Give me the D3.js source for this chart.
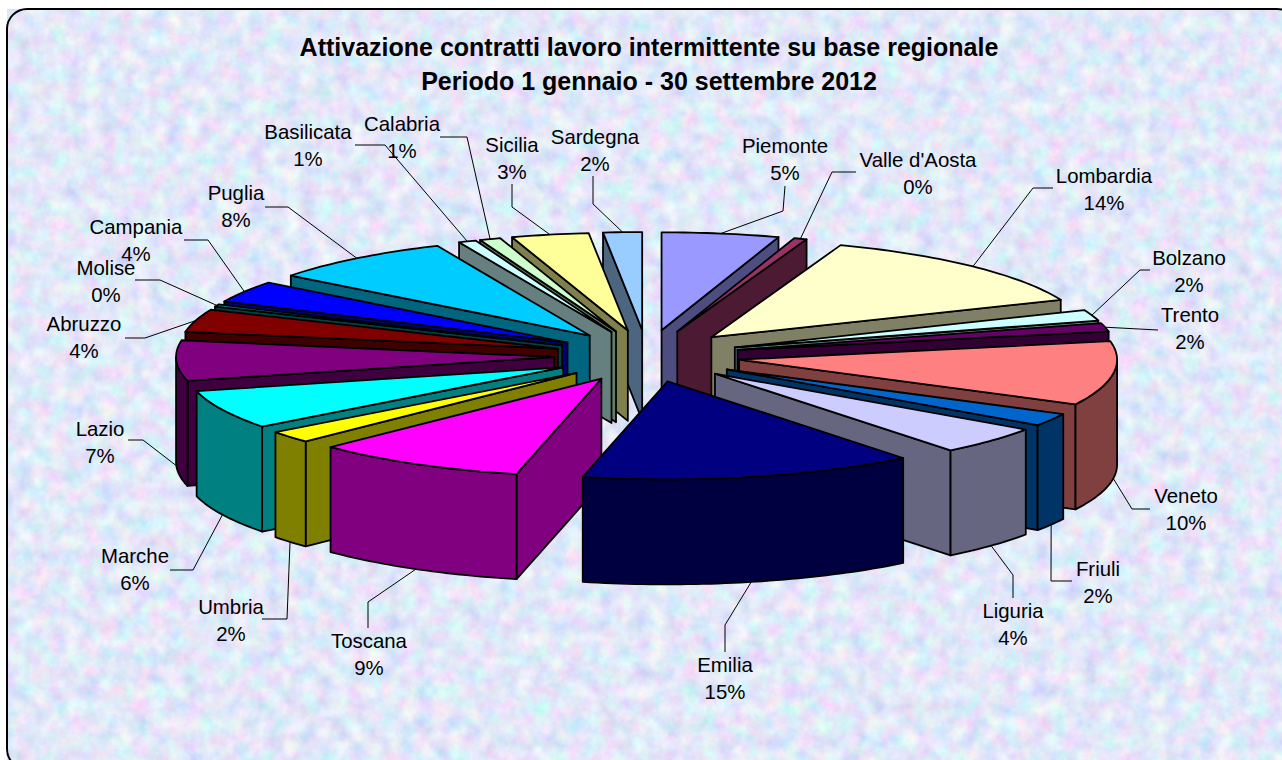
<!DOCTYPE html>
<html><head><meta charset="utf-8">
<script src="https://cdn.jsdelivr.net/npm/d3@7"></script>
<style>html,body{margin:0;padding:0;background:#fff;overflow:hidden}svg{display:block}text{font-family:"Liberation Sans",Arial,sans-serif;fill:#000}</style>
</head><body><svg id="c" width="1282" height="760"></svg>
<script>
const regions = ["Piemonte","Valle d'Aosta","Lombardia","Bolzano","Trento","Veneto","Friuli","Liguria","Emilia","Toscana","Umbria","Marche","Lazio","Abruzzo","Molise","Campania","Puglia","Basilicata","Calabria","Sicilia","Sardegna"];
const shares = [5.0,0.55,13.2,1.8,1.4,10.55,2.1,4.65,14.3,9.1,1.95,6.4,6.65,3.75,0.4,3.6,7.9,0.75,0.9,3.3,1.65];
const percentLabels = ["5%","0%","14%","2%","2%","10%","2%","4%","15%","9%","2%","6%","7%","4%","0%","4%","8%","1%","1%","3%","2%"];
const colors = ["#9999FF","#993366","#FFFFCC","#CCFFFF","#660066","#FF8080","#0066CC","#CCCCFF","#000080","#FF00FF","#FFFF00","#00FFFF","#800080","#800000","#008080","#0000FF","#00CCFF","#CCFFFF","#CCFFCC","#FFFF99","#99CCFF"];
const titleLines = ["Attivazione contratti lavoro intermittente su base regionale","Periodo 1 gennaio - 30 settembre 2012"];
// label placement: label centre x, first-line centre y, leader elbow and leader end
const labelLayout = [
 [785,146,[783,211],[785,186]],[918,160,[832,172],[856,172]],[1104,176,[1033,188],[1053,188]],
 [1189,258,[1140,270],[1150,270]],[1190,315,null,[1158,330]],[1186,496,[1132,509],[1150,509]],
 [1098,569,[1051,581],[1072,581]],[1013,611,[1013,575],[1013,598]],[725,665,[725,625],[725,652]],
 [369,641,[368,602],[368,628]],[231,607,[287,619],[262,619]],[135,556,[193,570],[170,570]],
 [100,429,[143,440],[128,440]],[84,324,[145,338],[125,338]],[106,268,[160,280],[135,280]],
 [136,227,[208,240],[184,240]],[236,193,[288,207],[265,207]],[308,132,[385,145],[355,145]],
 [402,124,[467,137],[440,137]],[512,145,[512,207],[512,184]],[595,137,[593,204],[593,176]]];

const W=1282,H=760, cx=647, cy=356, rx=378, ry=98, ex=93, ey=26;
const svg=d3.select("#c");
const defs=svg.append("defs");
const f=defs.append("filter").attr("id","tex").attr("x",0).attr("y",0).attr("width","100%").attr("height","100%");
f.append("feTurbulence").attr("type","fractalNoise").attr("baseFrequency",0.06).attr("numOctaves",4).attr("seed",7);
f.append("feColorMatrix").attr("type","matrix").attr("values",
 "0.6 0 0 0 0.46  0 0.48 0 0 0.57  0 0 0.2 0 0.84  0 0 0 0 1");
const frame={x:7,y:9,w:1290,h:760,r:20};
svg.append("rect").attr("x",frame.x).attr("y",frame.y).attr("width",frame.w).attr("height",frame.h).attr("rx",frame.r).attr("filter","url(#tex)");
svg.append("rect").attr("x",frame.x).attr("y",frame.y).attr("width",frame.w).attr("height",frame.h).attr("rx",frame.r).attr("fill","none").attr("stroke","#000").attr("stroke-width",2);

const pie=d3.pie().sort(null).startAngle(0).endAngle(2*Math.PI);
const arcs=pie(shares);
const depth=d3.scaleLinear().domain([330,358]).range([90,105]).clamp(true);
const line=d3.line();
const down=p=>[p[0],p[1]+depth(p[1])];

const slices=arcs.map((a,i)=>{
  const mid=(a.startAngle+a.endAngle)/2;
  const tip=[cx+ex*Math.sin(mid),cy-ey*Math.cos(mid)];
  const rim=t=>[tip[0]+rx*Math.sin(t),tip[1]-ry*Math.cos(t)];
  return {i,a,mid,tip,rim};
}).sort((p,q)=>Math.cos(q.mid)-Math.cos(p.mid));

const g=svg.append("g").attr("stroke","#000").attr("stroke-width",1.8).attr("stroke-linejoin","round");
const samples=(t0,t1)=>{const n=Math.max(2,Math.ceil((t1-t0)/0.02));return d3.range(n+1).map(k=>t0+(t1-t0)*k/n);};
slices.forEach(s=>{
  const {a,tip,rim,i}=s, col=d3.rgb(colors[i]);
  const dark=d3.rgb(col.r*0.5,col.g*0.5,col.b*0.5).formatHex();
  const gs=g.append("g").attr("class","slice");
  const radial=t=>{const e=rim(t);gs.append("path").attr("fill",dark).attr("d",line([tip,e,down(e),down(tip)])+"Z");};
  if(Math.sin(a.endAngle)>0.001) radial(a.endAngle);
  if(Math.sin(a.startAngle)<-0.001) radial(a.startAngle);
  const w0=Math.max(a.startAngle,Math.PI/2), w1=Math.min(a.endAngle,3*Math.PI/2);
  if(w1>w0){
    const top=samples(w0,w1).map(rim);
    gs.append("path").attr("fill",dark).attr("d",line(top.concat(top.slice().reverse().map(down)))+"Z");
  }
  const arcPts=samples(a.startAngle,a.endAngle).map(rim);
  gs.append("path").attr("fill",colors[i]).attr("d",line([tip].concat(arcPts))+"Z");
});

const leaders=svg.append("g").attr("fill","none").attr("stroke","#000").attr("stroke-width",1);
const labels=svg.append("g").attr("text-anchor","middle").attr("font-size",20.4);
slices.forEach(s=>{
  const l=labelLayout[s.i];
  let st=s.rim(s.mid); if(Math.cos(s.mid)<0.05) st=down(st);
  const pts=[st]; if(l[2]) pts.push(l[2]); pts.push(l[3]);
  leaders.append("path").attr("d",line(pts));
  labels.append("text").attr("x",l[0]).attr("y",l[1]+7).text(regions[s.i]);
  labels.append("text").attr("x",l[0]).attr("y",l[1]+34).text(percentLabels[s.i]);
});
svg.append("g").attr("text-anchor","middle").attr("font-size",25).attr("font-weight","bold")
 .selectAll("text").data(titleLines).join("text").attr("x",649).attr("y",(d,i)=>56+i*34).text(d=>d);
</script></body></html>
